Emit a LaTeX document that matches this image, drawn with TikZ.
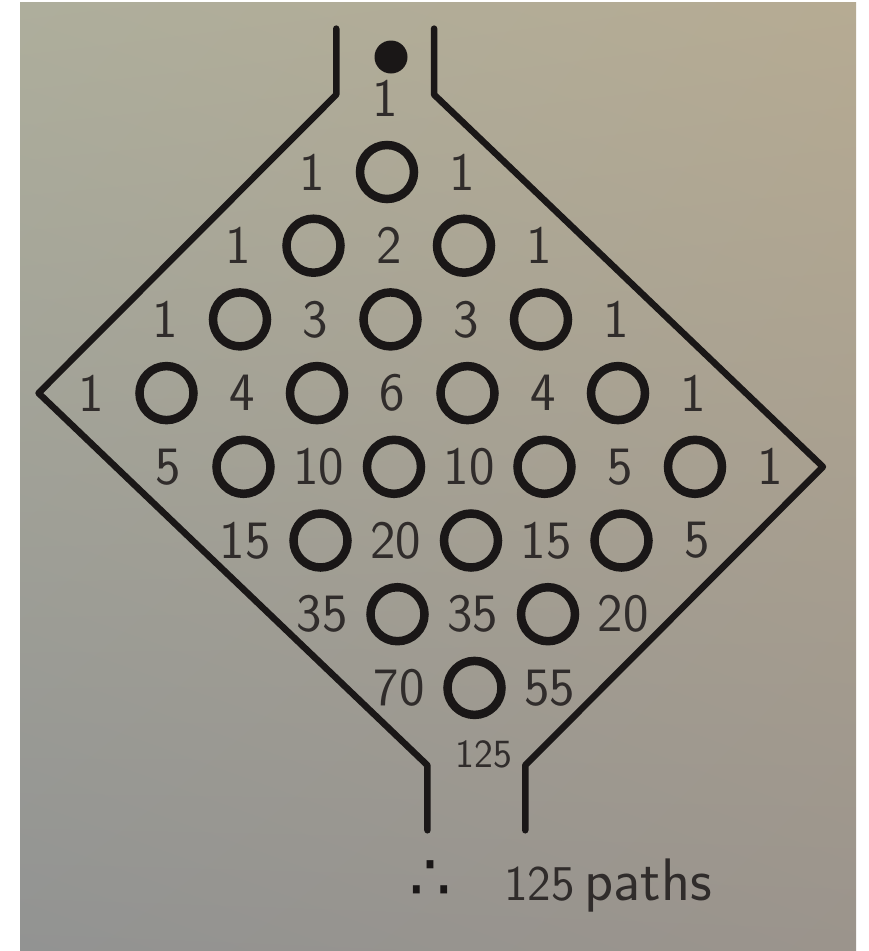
\documentclass[tikz,border=0pt]{standalone}
\usepackage{fontspec}
\newfontfamily\dotsfont{DejaVu Sans}
\usepackage{tikz}
\usetikzlibrary{positioning,shadings}
\definecolor{PenInk}{RGB}{26,23,23}
\definecolor{PencilGray}{RGB}{48,44,43}
\definecolor{PaperUL}{RGB}{174,174,156}
\definecolor{PaperUR}{RGB}{182,171,147}
\definecolor{PaperLL}{RGB}{146,147,146}
\definecolor{PaperLR}{RGB}{155,148,140}

\begin{document}
\begin{tikzpicture}[x=1pt,y=-1pt,
  wall/.style={draw=PenInk,line width=6.5pt,line join=round,line cap=round},
  peg/.style={circle,draw=PenInk,line width=8.5pt,minimum size=54pt,inner sep=0pt},
  tally/.style={text=PencilGray,inner sep=0pt,font=\sffamily\fontsize{54}{60}\selectfont}]
  \useasboundingbox (0,0) rectangle (869,951);
  \fill[white] (0,0) rectangle (869,951);
  \shade[upper left=PaperUL,upper right=PaperUR,lower left=PaperLL,lower right=PaperLR]
    (20,2) rectangle (856,951);
  \node[circle,fill=PenInk,minimum size=33pt,inner sep=0pt] (ball) at (391,57) {};
  \begin{scope}[shift={(387pt,-172pt)},x={(77pt,-73.7pt)},y={(-73.5pt,-73.7pt)}]
    \coordinate (tl) at (-0.85,-0.2);
    \coordinate (tr) at (-0.2,-0.85);
    \coordinate (lc) at (-0.85,3.85);
    \coordinate (rc) at (4.85,-0.85);
    \coordinate (bl) at (4.2,3.85);
    \coordinate (br) at (4.85,3.2);
    \foreach \a in {0,...,4}
      \foreach \b in {0,...,3}
        \node[peg] (peg-\a-\b) at (\a,\b) {};
    \foreach \q/\vals in {0/{1,1,1,1,1,1},1/{1,2,3,4,5,5},2/{1,3,6,10,15,20},
                          3/{1,4,10,20,35,55},4/{1,5,15,35,70}}
      \foreach \v [count=\p from 0] in \vals
        \node[tally] (n-\p-\q) at (\p-0.5,\q-0.5) {\v};
    \node[tally,font=\sffamily\fontsize{40}{46}\selectfont] (n-5-4) at (4.5,3.4) {125};
  \end{scope}
  \draw[wall] ([yshift=66pt]tl) -- (tl) -- (lc) -- (bl) -- ([yshift=-65pt]bl);
  \draw[wall] ([yshift=66pt]tr) -- (tr) -- (rc) -- (br) -- ([yshift=-65pt]br);
  \node[text=PencilGray,inner sep=0pt,anchor=base,font=\sffamily\fontsize{50}{56}\selectfont]
    (total) at (608,900) {125\hspace{10pt}{\fontsize{60}{66}\selectfont paths}};
  \node[text=PenInk,inner sep=0pt,base left=52pt of total,font=\dotsfont\fontsize{66}{72}\selectfont]
    (hence) {∴};
\end{tikzpicture}
\end{document}
